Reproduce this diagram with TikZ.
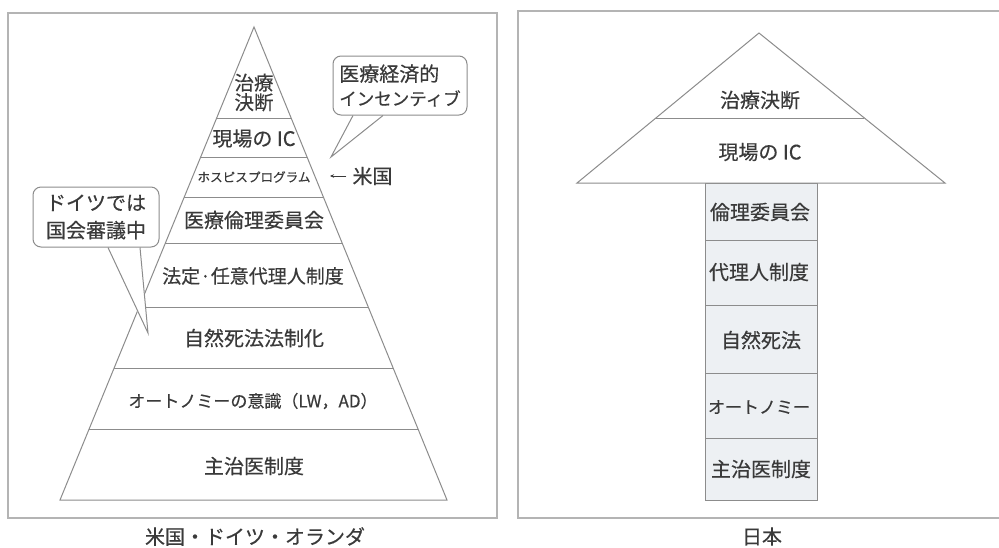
\documentclass[tikz,border=0pt]{standalone}
\usepackage{fontspec}
\setmainfont{Noto Sans CJK JP}[FakeBold=0.35]
\usetikzlibrary{calc,arrows.meta}
\definecolor{txt}{HTML}{3A3A3A}
\definecolor{ln}{HTML}{8C8C8C}
\definecolor{frm}{HTML}{B4B4B4}
\definecolor{colfill}{HTML}{EDF0F3}
\begin{document}
\begin{tikzpicture}[x=1pt,y=-1pt,
  lbl/.style={text=txt,font=\fontsize{20}{22}\selectfont,inner sep=0pt,align=center},
  lblm/.style={lbl,font=\fontsize{17}{19}\selectfont},
  lbls/.style={lbl,font=\fontsize{12.6}{14}\selectfont},
  shapeline/.style={draw=ln,line width=1pt},
  frameline/.style={draw=frm,line width=1.3pt},
  bubble/.style={draw=ln,line width=1pt,rounded corners=8pt,fill=white,inner sep=0pt,text=txt},
  tailfill/.style={fill=white},
  tailline/.style={draw=ln,line width=1pt,line join=miter}
]
\useasboundingbox (0,0) rectangle (999,547);
\fill[white] (0,0) rectangle (999,547);

% frames
\draw[frameline] (8,13) rectangle (497,518);
\draw[frameline] (518,11) rectangle (1010,518);

% ---------- left pyramid ----------
\coordinate (lapex) at (254,27);
\coordinate (lbl) at (60,500);
\coordinate (lbr) at (447,500);
\draw[shapeline] (lapex) -- (lbr) -- (lbl) -- cycle;
\foreach \yy in {119,157,197,243,307,368,429}
  \draw[shapeline] ($(lapex)!{(\yy-27)/473}!(lbl)$) -- ($(lapex)!{(\yy-27)/473}!(lbr)$);

\node[lbl,font=\fontsize{19.5}{19.5}\selectfont] (t1) at (254,92.5) {治療\\決断};
\node[lbl] (t2) at (254,138.5) {現場の IC};
\node[lbls] (t3) at (254,177) {ホスピスプログラム};
\node[lbl] (t4) at (254,220) {医療倫理委員会};
\node[lbl,font=\fontsize{19}{21}\selectfont] (t5) at (253,276) {法定·任意代理人制度};
\node[lbl] (t6) at (254,338) {自然死法法制化};
\node[lblm] (t7) at (253,401) {オートノミーの意識（LW，AD）};
\node[lbl] (t8) at (254,466) {主治医制度};

% US arrow
\node[lbl] (usa) at (372.5,176) {米国};
\coordinate (usatip) at (330,176);
\draw[draw=txt,line width=1pt,-{Stealth[length=4pt,width=3.5pt]}] ([xshift=-6pt]usa.west) -- (usatip);

% bubble: economic incentive
\node[bubble,minimum width=134pt,minimum height=59pt,align=left,
      font=\fontsize{20}{24}\selectfont] (eco) at (400,85.5)
      {医療経済的\\{\fontsize{17.5}{24}\selectfont インセンティブ}};
\coordinate (ecotip) at (331,157);
\fill[tailfill] ([xshift=-48pt,yshift=-0.8pt]eco.south) -- (ecotip) -- ([xshift=-16pt,yshift=-0.8pt]eco.south) -- cycle;
\draw[tailline] ([xshift=-47pt]eco.south) -- (ecotip) -- ([xshift=-17pt]eco.south);

% bubble: Germany
\node[bubble,minimum width=126pt,minimum height=60pt,align=center,
      font=\fontsize{20}{27.5}\selectfont] (ger) at (96,217)
      {ドイツでは\\国会審議中};
\coordinate (gertip) at (148,333);
\fill[tailfill] ([xshift=11pt,yshift=-0.8pt]ger.south) -- (gertip) -- ([xshift=45pt,yshift=-0.8pt]ger.south) -- cycle;
\draw[tailline] ([xshift=12pt]ger.south) -- (gertip) -- ([xshift=44pt]ger.south);

% caption left
\node[lbl] (capL) at (255,536.5) {米国・ドイツ・オランダ};

% ---------- right: Japan ----------
\coordinate (rapex) at (759,33);
\coordinate (rbl) at (577,183);
\coordinate (rbr) at (945,183);
\draw[shapeline,fill=colfill] (705,183) rectangle (817,500);
\foreach \yy in {240,305,373,438}
  \draw[shapeline] (705,\yy) -- (817,\yy);
\draw[shapeline,fill=white] (rapex) -- (rbr) -- (rbl) -- cycle;
\draw[shapeline] ($(rapex)!{85/150}!(rbl)$) -- ($(rapex)!{85/150}!(rbr)$);

\node[lbl] (r1) at (760,100) {治療決断};
\node[lbl] (r2) at (760,152) {現場の IC};
\node[lbl] (c1) at (760,212) {倫理委員会};
\node[lbl] (c2) at (759,272) {代理人制度};
\node[lbl] (c3) at (761,340) {自然死法};
\node[lblm] (c4) at (759,407) {オートノミー};
\node[lbl] (c5) at (761,469) {主治医制度};

\node[lbl] (capR) at (762,536.5) {日本};
\end{tikzpicture}
\end{document}
